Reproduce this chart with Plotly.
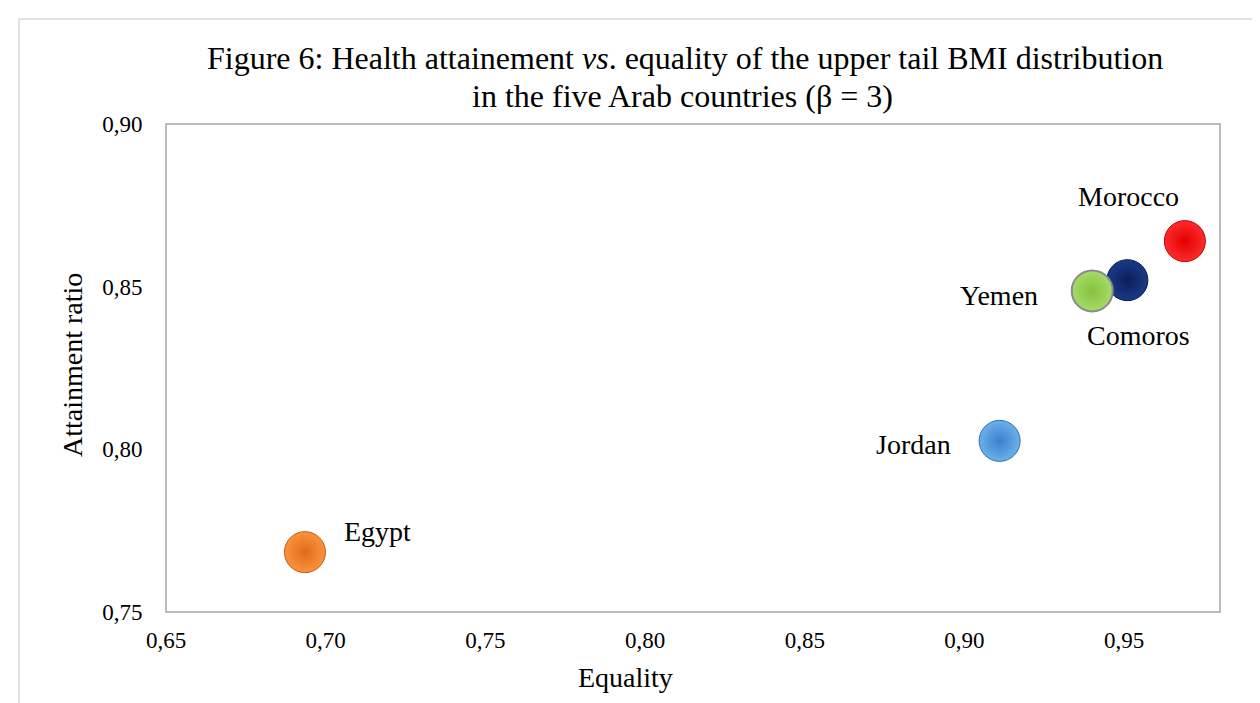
import plotly.graph_objects as go

countries = ["Morocco", "Comoros", "Yemen", "Jordan", "Egypt"]
equality = [0.969, 0.951, 0.940, 0.911, 0.6935]
attainment = [0.864, 0.852, 0.8487, 0.8026, 0.7684]
base_colors = ["#ff2b2b", "#1b3a86", "#a5db68", "#6cb0ea", "#f8933e"]
edge_colors = ["#e00000", "#0b1f5c", "#86c23f", "#3b80cb", "#e4691a"]
line_colors = ["#c00000", "#061646", "#8a8a8a", "#2f6fb0", "#c85a14"]
line_widths = [1, 1, 2, 1, 1]

x_ticks = [0.65, 0.70, 0.75, 0.80, 0.85, 0.90, 0.95]
y_ticks = [0.75, 0.80, 0.85, 0.90]

title_line1 = "Figure 6: Health attainement <i>vs</i>. equality of the upper tail BMI distribution"
title_line2 = "in the five Arab countries (β = 3)"

# label offsets (pixels) and anchors
label_dx = [-56, 11, -93, -47, 73]
label_dy = [45, -55, -5, -4, 21]
label_anchor = ["center", "center", "center", "right", "center"]

FONT = "Liberation Serif"

fig = go.Figure()
for i, c in enumerate(countries):
    fig.add_trace(go.Scatter(
        x=[equality[i]], y=[attainment[i]], mode="markers", name=c,
        marker=dict(size=41, color=base_colors[i],
                    gradient=dict(type="radial", color=edge_colors[i]),
                    line=dict(color=line_colors[i], width=line_widths[i])),
        showlegend=False, hoverinfo="skip",
    ))
    fig.add_annotation(x=equality[i], y=attainment[i], xref="x", yref="y",
                       text=c, showarrow=False, xanchor=label_anchor[i], yanchor="middle",
                       xshift=label_dx[i], yshift=label_dy[i],
                       font=dict(family=FONT, size=28, color="black"))

# title (two lines, tighter spacing like the original)
fig.add_annotation(text=title_line1, x=0.4924, y=1.135, xref="paper", yref="paper",
                   showarrow=False, xanchor="center", yanchor="middle",
                   font=dict(family=FONT, size=32, color="black"))
fig.add_annotation(text=title_line2, x=0.4905, y=1.057, xref="paper", yref="paper",
                   showarrow=False, xanchor="center", yanchor="middle",
                   font=dict(family=FONT, size=32, color="black"))

fig.add_annotation(text="Equality", x=0.4364, y=-0.134, xref="paper", yref="paper",
                   showarrow=False, xanchor="center", yanchor="middle",
                   font=dict(family=FONT, size=28, color="black"))
fig.add_annotation(text="Attainment ratio", x=-0.0892, y=0.506, xref="paper", yref="paper",
                   showarrow=False, textangle=-90, xanchor="center", yanchor="middle",
                   font=dict(family=FONT, size=28, color="black"))

# outer frame and plot box
fig.add_shape(type="rect", xref="paper", yref="paper", x0=-0.1395, y0=-0.4, x1=1.3, y1=1.2152,
              line=dict(color="#d9d9d9", width=1.5), layer="below")
fig.add_shape(type="rect", xref="paper", yref="paper", x0=0, y0=0, x1=1, y1=1,
              line=dict(color="#a6a6a6", width=1.5), layer="below")

fig.update_layout(
    width=1260, height=703,
    margin=dict(l=158, r=48, t=116, b=99),
    paper_bgcolor="white", plot_bgcolor="white",
    separators=",.",
    xaxis=dict(range=[0.65, 0.98], tickvals=x_ticks, tickformat=".2f",
               showgrid=False, zeroline=False, showline=False,
               ticks="outside", ticklen=7, tickcolor="rgba(0,0,0,0)",
               tickfont=dict(family=FONT, size=23, color="black")),
    yaxis=dict(range=[0.75, 0.90], tickvals=y_ticks, tickformat=".2f",
               showgrid=False, zeroline=False, showline=False,
               ticks="outside", ticklen=18, tickcolor="rgba(0,0,0,0)",
               tickfont=dict(family=FONT, size=23, color="black")),
)

fig.write_html("out.html")
